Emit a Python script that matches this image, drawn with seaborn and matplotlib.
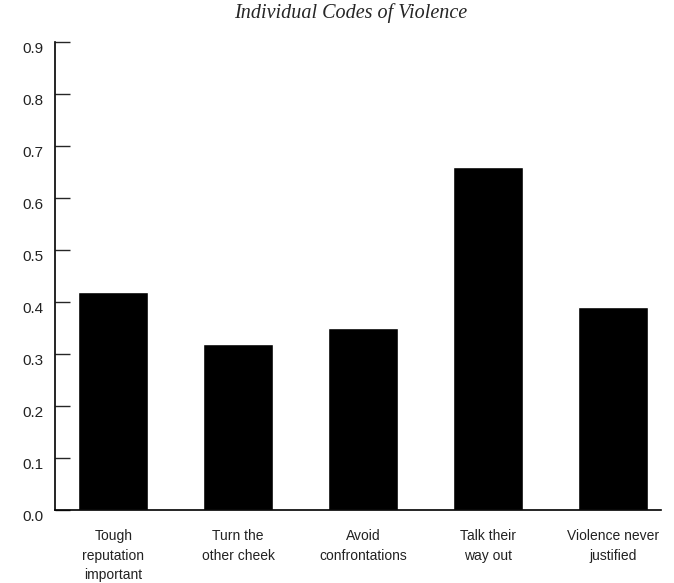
import numpy as np
import pandas as pd
import matplotlib
matplotlib.use("Agg")
import matplotlib.pyplot as plt
import matplotlib.transforms as mtransforms
import seaborn as sns

# values
categories = ["Tough\nreputation\nimportant", "Turn the\nother cheek", "Avoid\nconfrontations",
              "Talk their\nway out", "Violence never\njustified"]
values = [0.42, 0.32, 0.35, 0.66, 0.39]
yticks = [0.0, 0.1, 0.2, 0.3, 0.4, 0.5, 0.6, 0.7, 0.8, 0.9]

sns.set_style("white")
plt.rcParams["font.family"] = ["Liberation Sans", "DejaVu Sans"]

df = pd.DataFrame({"code": categories, "share": values})

fig = plt.figure(figsize=(6.74, 5.83), dpi=100)
ax = fig.add_axes([0.081, 0.1252, 0.899, 0.8028])

sns.barplot(data=df, x="code", y="share", color="black", width=0.56,
            saturation=1, ax=ax)

ax.set_ylim(0, 0.9)
ax.set_xlim(-0.47, 4.38)
ax.set_yticks(yticks)
ax.set_yticklabels([f"{t:.1f}" for t in yticks], fontsize=11, color="#222")
ax.tick_params(axis="y", direction="in", length=11, width=1, pad=8, left=True)
ax.tick_params(axis="x", length=0, pad=14, labelsize=10, labelcolor="#222")
for lab in ax.get_xticklabels():
    lab.set_linespacing(1.5)
ax.set_xlabel("")
ax.set_ylabel("")

# tick labels sit a little below their ticks in the original
shift = mtransforms.ScaledTranslation(0, -4 / 72, fig.dpi_scale_trans)
for lab in ax.get_yticklabels():
    lab.set_transform(lab.get_transform() + shift)

for side in ["top", "right"]:
    ax.spines[side].set_visible(False)
for side in ["left", "bottom"]:
    ax.spines[side].set_color("black")
    ax.spines[side].set_linewidth(1.2)

fig.text(0.52, 0.977, "Individual Codes of Violence", ha="center", va="center",
         fontsize=14.5, style="italic", family=["Liberation Serif", "DejaVu Serif"])

plt.savefig("out.png", dpi=100, facecolor="white")
